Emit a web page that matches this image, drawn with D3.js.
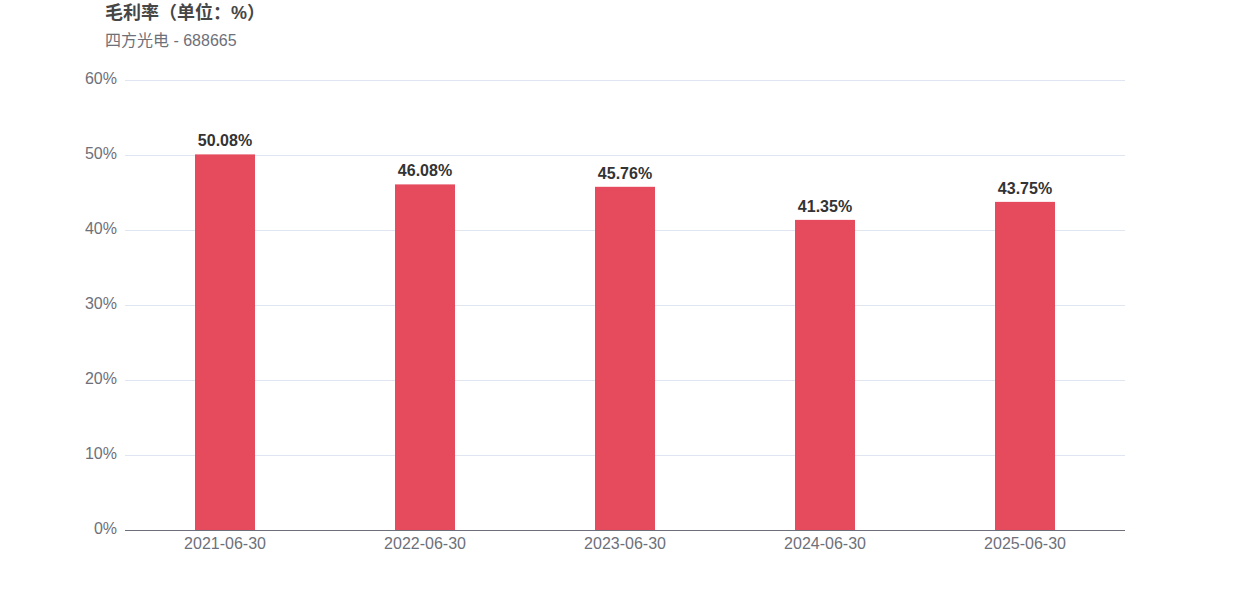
<!DOCTYPE html>
<html><head><meta charset="utf-8">
<script src="https://cdn.jsdelivr.net/npm/d3@7/dist/d3.min.js"></script>
<style>body{margin:0;background:#fff}svg{display:block}text{font-family:"Liberation Sans","Noto Sans CJK SC",sans-serif}</style>
</head><body><svg id="c" width="1250" height="600"></svg>
<script>
const categories = ["2021-06-30","2022-06-30","2023-06-30","2024-06-30","2025-06-30"];
const values = [50.08, 46.08, 45.76, 41.35, 43.75];
const yTicks = [0,10,20,30,40,50,60];
const title = "毛利率（单位：%）";
const subtitle = "四方光电 - 688665";

const svg = d3.select("#c");
const mLeft = 125, mRight = 1125, mTop = 80, mBottom = 530;
const x = d3.scaleBand().domain(categories).range([mLeft, mRight]);
const y = d3.scaleLinear().domain([0, 60]).range([mBottom, mTop]);

svg.append("text").attr("x", 105).attr("y", 19).attr("font-size", 18).attr("font-weight", "bold").attr("fill", "#464646").text(title);
svg.append("text").attr("x", 105).attr("y", 46).attr("font-size", 16).attr("fill", "#6E7079").text(subtitle);

// grid
svg.append("g").selectAll("line").data(yTicks.filter(d => d > 0)).join("line")
  .attr("x1", mLeft).attr("x2", mRight).attr("y1", d => y(d) + 0.5).attr("y2", d => y(d) + 0.5)
  .attr("stroke", "#E0E6F1").attr("stroke-width", 1);

// y labels
const yAxis = d3.axisLeft(y).tickValues(yTicks).tickFormat(d => d + "%").tickSize(0).tickPadding(8);
const gy = svg.append("g").attr("transform", `translate(${mLeft},0)`).call(yAxis);
gy.select(".domain").remove();
gy.selectAll("text").attr("font-size", 16).attr("fill", "#6E7079").attr("font-family", null).attr("dy", "0.22em");

// bars
svg.append("g").selectAll("rect").data(values).join("rect")
  .attr("x", (d, i) => x(categories[i]) + x.bandwidth() / 2 - 30)
  .attr("width", 60)
  .attr("y", d => y(d))
  .attr("height", d => mBottom - y(d))
  .attr("fill", "#E64B5D");

// value labels
svg.append("g").selectAll("text").data(values).join("text")
  .attr("x", (d, i) => x(categories[i]) + x.bandwidth() / 2)
  .attr("y", d => y(d) - 8)
  .attr("text-anchor", "middle").attr("font-size", 16).attr("font-weight", "bold").attr("fill", "#333")
  .text(d => d.toFixed(2) + "%");

// x axis
const xAxis = d3.axisBottom(x).tickSize(0).tickPadding(8);
const gx = svg.append("g").attr("transform", `translate(0,${mBottom})`).call(xAxis);
gx.select(".domain").attr("stroke", "#6E7079").attr("d", `M${mLeft},0.5H${mRight}`);
gx.selectAll("text").attr("font-size", 16).attr("fill", "#6E7079").attr("font-family", null);
</script></body></html>
